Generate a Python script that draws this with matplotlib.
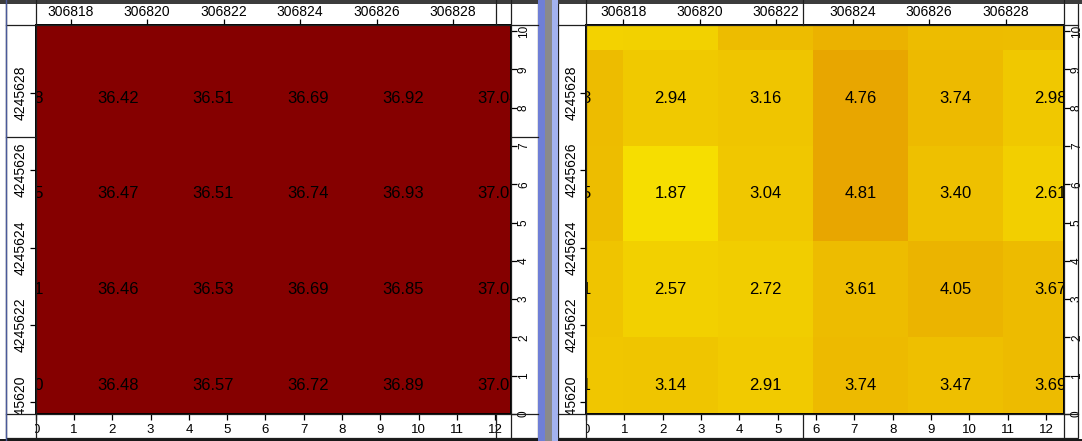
import matplotlib
matplotlib.use("Agg")
import numpy as np
import matplotlib.pyplot as plt
from matplotlib.colors import LinearSegmentedColormap, ListedColormap, Normalize
from matplotlib.patches import Rectangle
from matplotlib.transforms import Bbox, TransformedBbox

# cell values, rows top -> bottom; first row and first/last columns are only partly in view
depth_left = np.array([
    [36.33, 36.40, 36.46, 36.64, 36.90, 37.03],
    [36.38, 36.42, 36.51, 36.69, 36.92, 37.04],
    [36.45, 36.47, 36.51, 36.74, 36.93, 37.05],
    [36.41, 36.46, 36.53, 36.69, 36.85, 37.02],
    [36.40, 36.48, 36.57, 36.72, 36.89, 37.01],
])
depth_right = np.array([
    [2.46, 2.52, 3.63, 4.17, 3.63, 3.60],
    [3.63, 2.94, 3.16, 4.76, 3.74, 2.98],
    [3.55, 1.87, 3.04, 4.81, 3.40, 2.61],
    [3.21, 2.57, 2.72, 3.61, 4.05, 3.67],
    [3.11, 3.14, 2.91, 3.74, 3.47, 3.69],
])
easting_ticks = [306818, 306820, 306822, 306824, 306826, 306828]
northing_ticks = [4245620, 4245622, 4245624, 4245626, 4245628]
grid_x_ticks = list(range(0, 13))
grid_y_ticks = list(range(0, 11))

plt.rcParams["font.family"] = ["Liberation Sans", "DejaVu Sans"]

W, H = 1082, 441
TOP, BOTTOM = 25, 414
fig = plt.figure(figsize=(W / 100, H / 100), dpi=100)
fig.patch.set_facecolor("white")


def frac(x0, y0, x1, y1):
    return [x0 / W, 1 - y1 / H, (x1 - x0) / W, (y1 - y0) / H]


def fig_box(x0, y0, x1, y1):
    return TransformedBbox(Bbox.from_extents(x0 / W, 1 - y1 / H, x1 / W, 1 - y0 / H), fig.transFigure)


def draw_panel(x0, x1, data, cmap, norm, cell_xlim, grid_xmax, east0, strip_left):
    rect = frac(x0, TOP, x1, BOTTOM)
    ax = fig.add_axes(rect)
    ax.imshow(data, cmap=cmap, norm=norm, aspect="auto", interpolation="nearest")
    ax.set_xlim(*cell_xlim)
    ax.set_ylim(4.30, 0.237)
    ax.set_xticks([])
    ax.set_yticks([])
    for s in ax.spines.values():
        s.set_linewidth(1.4)
    # the top row is cut off above its labels, so only rows 1.. carry text
    for i in range(1, data.shape[0]):
        for j in range(data.shape[1]):
            ax.text(j, i, f"{data[i, j]:.2f}", ha="center", va="center",
                    fontsize=12, color="black", clip_on=True)

    # grid coordinates: bottom and right
    g = fig.add_axes(rect, frameon=False)
    g.patch.set_visible(False)
    g.set_xlim(0, grid_xmax)
    g.set_ylim(0, 10.16)
    g.set_xticks(grid_x_ticks)
    g.set_yticks(grid_y_ticks)
    g.yaxis.tick_right()
    g.tick_params(axis="x", direction="out", length=4, width=0.9, pad=3, labelsize=9.5)
    g.tick_params(axis="y", direction="out", length=4, width=0.9, pad=1, labelsize=8.5, labelrotation=90)
    for lab in g.get_yticklabels():
        lab.set_va("center")
    for lab in g.get_xticklabels():
        lab.set_clip_box(fig_box(x0 - 0.5, BOTTOM, x1 + 14, 438))

    # map coordinates: top and left
    geo = fig.add_axes(rect, frameon=False)
    geo.patch.set_visible(False)
    geo.set_xlim(east0, east0 + (x1 - x0) / 38.25)
    geo.set_ylim(4245619.70, 4245619.70 + (BOTTOM - TOP) / 38.7)
    geo.set_xticks(easting_ticks)
    geo.set_yticks(northing_ticks)
    geo.set_xticklabels([str(v) for v in easting_ticks])
    geo.set_yticklabels([str(v) for v in northing_ticks])
    geo.xaxis.tick_top()
    geo.tick_params(axis="x", direction="out", length=4, width=0.9, pad=0.6, labelsize=10)
    geo.tick_params(axis="y", direction="out", length=4, width=0.9, pad=1.5, labelsize=10, labelrotation=90)
    for lab in geo.get_xticklabels():
        lab.set_clip_box(fig_box(strip_left, 3.5, x1 + 14, TOP))
    for lab in geo.get_yticklabels():
        lab.set_va("center")
        lab.set_clip_box(fig_box(strip_left, TOP, x0, BOTTOM))
    return ax


draw_panel(35.7, 511, depth_left, ListedColormap(["#850000"]), Normalize(30, 40),
           (0.134, 5.137), 12.41, 306817.09, 6)

yellow = LinearSegmentedColormap.from_list("depth", ["#f6de00", "#e8a600"])
draw_panel(586, 1064, depth_right, yellow, Normalize(1.87, 4.81),
           (0.111, 5.142), 12.47, 306817.03, 558)

# window frames and separator
deco = fig.add_axes([0, 0, 1, 1], zorder=5)
deco.set_xlim(0, W)
deco.set_ylim(H, 0)
deco.axis("off")
deco.patch.set_visible(False)
lc = "#1e1e1e"
for (a, b) in [(6, 538), (558, 1078)]:
    deco.add_patch(Rectangle((a, 1), b - a, 437, fill=False, ec=lc, lw=0.9))
    for y in (TOP, BOTTOM):
        deco.plot([a, b], [y, y], color=lc, lw=0.9)
for x in (35.7, 511, 586, 1064):
    deco.plot([x, x], [0, 438], color=lc, lw=0.9)
for x in (496, 803):
    deco.plot([x, x], [0, TOP], color=lc, lw=0.9)
    deco.plot([x, x], [BOTTOM, 438], color=lc, lw=0.9)
deco.plot([6, 35.7], [137, 137], color=lc, lw=0.9)
deco.plot([511, 538], [137, 137], color=lc, lw=0.9)
deco.add_patch(Rectangle((0, 0), W, 3.5, color="#3c3c3c", lw=0))
deco.add_patch(Rectangle((0, 438.5), W, 2.5, color="#1a1a1a", lw=0))
deco.add_patch(Rectangle((538, 0), 7, H, color="#6f7fd6", lw=0))
deco.add_patch(Rectangle((545, 0), 7, H, color="#8a8a8a", lw=0))
deco.add_patch(Rectangle((552, 0), 6, H, color="#a3b2ef", lw=0))
deco.plot([6, 6], [0, H], color="#4a5a9a", lw=1)

fig.savefig("out.png", dpi=100)
